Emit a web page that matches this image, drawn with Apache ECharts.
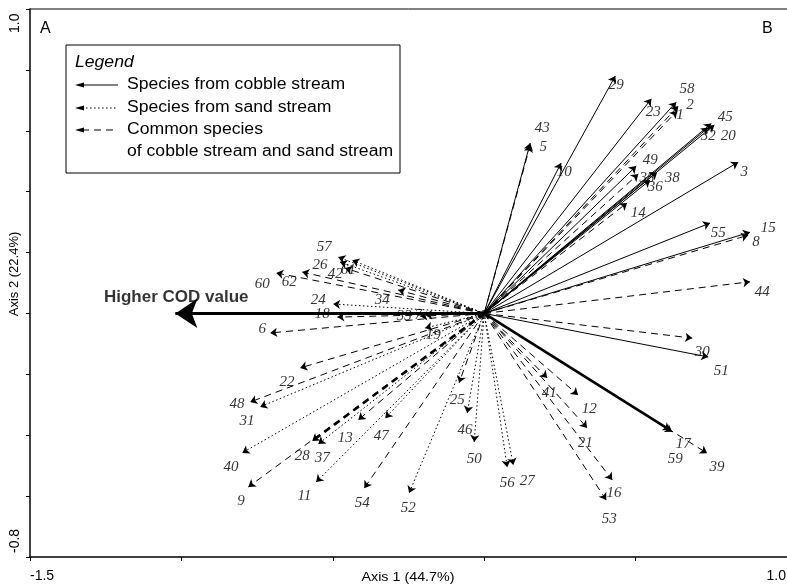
<!DOCTYPE html>
<html>
<head>
<meta charset="utf-8">
<script src="https://cdn.jsdelivr.net/npm/echarts@6/dist/echarts.min.js"></script>
<style>html,body{margin:0;padding:0;background:#fff}#c{width:787px;height:586px}</style>
</head>
<body>
<div id="c"></div>
<script>
// ---- data (biplot scores, axis 1 / axis 2) ----
const species = ['29','23','58','2','1','43','5','10','45','32','20','49','35','36','38','14','3','55','15','8','44','30','51','17','59','39','12','21','41','16','53','56','27','50','46','25','52','54','11','9','40','28','37','13','47','48','31','22','19','6','57','26','61','42','60','62','24','18','34','33','7'];
const axis1 = [0.433,0.552,0.634,0.641,0.637,0.152,0.152,0.254,0.750,0.740,0.760,0.502,0.509,0.548,0.571,0.472,0.839,0.746,0.878,0.872,0.878,0.687,0.740,0.614,0.621,0.736,0.310,0.340,0.208,0.423,0.403,0.076,0.096,-0.033,-0.056,-0.083,-0.248,-0.396,-0.555,-0.779,-0.799,-0.568,-0.548,-0.416,-0.327,-0.773,-0.740,-0.608,-0.195,-0.707,-0.482,-0.476,-0.436,-0.459,-0.687,-0.601,-0.499,-0.485,-0.284,-0.211,-0.195];
const axis2 = [0.780,0.705,0.694,0.681,0.665,0.560,0.553,0.494,0.624,0.610,0.619,0.484,0.458,0.438,0.464,0.363,0.497,0.297,0.267,0.257,0.104,-0.081,-0.143,-0.383,-0.389,-0.459,-0.268,-0.376,-0.212,-0.547,-0.613,-0.505,-0.498,-0.422,-0.327,-0.228,-0.590,-0.574,-0.554,-0.570,-0.458,-0.419,-0.429,-0.350,-0.344,-0.291,-0.307,-0.179,-0.048,-0.064,0.185,0.169,0.175,0.149,0.133,0.136,0.031,-0.012,0.077,-0.009,-0.005];
// c = species from cobble stream, s = species from sand stream, m = common species
const origin = ['c','c','c','m','m','c','m','c','c','c','c','c','m','c','c','m','c','c','c','m','m','m','c','c','m','m','m','m','m','m','m','s','s','s','s','m','s','m','s','m','s','m','s','m','s','m','s','m','s','m','s','s','s','m','m','m','s','m','m','m','m'];
// where each species number is written (axis units)
const labelAxis1 = [0.436,0.558,0.670,0.680,0.647,0.192,0.195,0.264,0.796,0.740,0.806,0.548,0.538,0.565,0.621,0.509,0.859,0.773,0.938,0.898,0.918,0.720,0.783,0.657,0.631,0.769,0.347,0.334,0.215,0.429,0.413,0.076,0.142,-0.033,-0.063,-0.089,-0.251,-0.403,-0.594,-0.803,-0.836,-0.601,-0.535,-0.459,-0.340,-0.816,-0.783,-0.651,-0.168,-0.733,-0.528,-0.542,-0.449,-0.492,-0.733,-0.644,-0.548,-0.535,-0.337,-0.264,-0.218];
const labelAxis2 = [0.751,0.661,0.737,0.684,0.652,0.609,0.547,0.465,0.645,0.581,0.581,0.504,0.445,0.415,0.444,0.331,0.465,0.264,0.281,0.235,0.070,-0.127,-0.189,-0.429,-0.478,-0.505,-0.314,-0.426,-0.261,-0.590,-0.675,-0.557,-0.551,-0.478,-0.383,-0.284,-0.639,-0.623,-0.600,-0.616,-0.504,-0.469,-0.475,-0.409,-0.403,-0.297,-0.353,-0.225,-0.071,-0.051,0.219,0.159,0.143,0.130,0.097,0.103,0.044,-0.002,0.044,-0.009,-0.005];
const codVector = [-1.02, 0];
const codLabel = 'Higher COD value';
const codLabelAt = [-1.017, 0.054];
const xTickLabels = ['-1.5', '1.0'];
const yTickLabels = ['1.0', '-0.8'];
const axisTitles = ['Axis 1 (44.7%)', 'Axis 2 (22.4%)'];
const panelLetters = ['A', 'B'];
const legendTitle = 'Legend';
const legendItems = ['Species from cobble stream', 'Species from sand stream', 'Common species', 'of cobble stream and sand stream'];
const heavy = ['28', '17'];

// ---- build ----
const chart = echarts.init(document.getElementById('c'));
const dashFor = { c: 'solid', s: [1.5, 2.5], m: [7, 5] };
const nameFor = { c: legendItems[0], s: legendItems[1], m: legendItems[2] };
const INK = '#000';

function linesFor(t) {
  const data = [];
  species.forEach((sp, i) => {
    if (origin[i] !== t) return;
    const item = { coords: [[0, 0], [axis1[i], axis2[i]]] };
    if (heavy.includes(sp)) item.lineStyle = { width: 2.6 };
    data.push(item);
  });
  return {
    type: 'lines', name: nameFor[t], coordinateSystem: 'cartesian2d',
    symbol: ['none', 'arrow'], symbolSize: 7, silent: true,
    lineStyle: { color: INK, width: 1, type: dashFor[t], opacity: 1 },
    data, z: 3
  };
}

const labelData = species.map((sp, i) => ({ name: sp, value: [labelAxis1[i], labelAxis2[i]] }));

const F = 'Liberation Sans, Arial, sans-serif';
function txt(x, y, text, font, align, sx) {
  return { type: 'text', x, y, z: 20, scaleX: sx || 1,
           style: { text, font, fill: INK, textAlign: align || 'left', textVerticalAlign: 'middle' } };
}
function legendArrow(y, dash) {
  const st = { stroke: INK, lineWidth: 1 };
  if (dash) st.lineDash = dash;
  return [
    { type: 'line', z: 20, shape: { x1: 82, y1: y, x2: 118, y2: y }, style: st },
    { type: 'polygon', z: 20, shape: { points: [[75, y], [84, y - 2.5], [84, y + 2.5]] }, style: { fill: INK } }
  ];
}

chart.setOption({
  animation: false,
  grid: { left: 30, right: 0, top: 9, bottom: 29 },
  xAxis: {
    type: 'value', min: -1.5, max: 1.0, interval: 0.5,
    axisLine: { show: true, onZero: false, lineStyle: { color: INK, width: 1.5 } },
    axisTick: { show: true, length: 4, lineStyle: { color: INK } },
    axisLabel: { show: false }, splitLine: { show: false }
  },
  yAxis: {
    type: 'value', min: -0.8, max: 1.0, interval: 0.2,
    axisLine: { show: true, onZero: false, lineStyle: { color: INK, width: 1.5 } },
    axisTick: { show: true, length: 4, lineStyle: { color: INK } },
    axisLabel: { show: false }, splitLine: { show: false }
  },
  series: [
    linesFor('c'), linesFor('s'), linesFor('m'),
    {
      type: 'lines', coordinateSystem: 'cartesian2d', silent: true,
      symbol: ['none', 'arrow'], symbolSize: [11, 22],
      lineStyle: { color: INK, width: 3, opacity: 1 },
      data: [{ coords: [[0, 0], codVector] }], z: 4
    },
    {
      type: 'scatter', symbolSize: 0, silent: true, z: 5,
      data: labelData,
      label: { show: true, position: 'inside', formatter: p => p.name, color: INK,
               fontFamily: 'Liberation Serif, Times New Roman, serif', fontStyle: 'italic', fontSize: 15 }
    },
    {
      type: 'scatter', symbolSize: 0, silent: true, z: 5,
      data: [{ name: codLabel, value: codLabelAt }],
      label: { show: true, position: 'inside', formatter: p => p.name, color: INK,
               fontFamily: F, fontWeight: 'bold', fontSize: 17 }
    },
    {
      type: 'scatter', symbolSize: 7, silent: true, z: 6,
      itemStyle: { color: INK }, data: [[0, 0]]
    }
  ],
  graphic: [
    { type: 'line', z: 1, shape: { x1: 30, y1: 9, x2: 787, y2: 9 }, style: { stroke: INK, lineWidth: 1 } },
    txt(30, 576, xTickLabels[0], '14px ' + F),
    txt(786, 576, xTickLabels[1], '14px ' + F, 'right'),
    { type: 'text', x: 8, y: 33, rotation: Math.PI / 2, z: 20, style: { text: yTickLabels[0], font: '14px ' + F, fill: INK, textAlign: 'left', textVerticalAlign: 'top' } },
    { type: 'text', x: 8, y: 553, rotation: Math.PI / 2, z: 20, style: { text: yTickLabels[1], font: '14px ' + F, fill: INK, textAlign: 'left', textVerticalAlign: 'top' } },
    txt(408, 577, axisTitles[0], '13px ' + F, 'center', 1.1),
    { type: 'text', x: 8, y: 274, rotation: Math.PI / 2, z: 20, style: { text: axisTitles[1], font: '13px ' + F, fill: INK, textAlign: 'center', textVerticalAlign: 'top' } },
    txt(40, 29, panelLetters[0], '16px ' + F),
    txt(762, 29, panelLetters[1], '16px ' + F),
    { type: 'rect', z: 15, shape: { x: 66, y: 45, width: 334, height: 128 }, style: { fill: '#fff', stroke: INK, lineWidth: 1 } },
    txt(75, 63, legendTitle, 'italic 16px ' + F, 'left', 1.1),
    ...legendArrow(85, null),
    txt(127, 85, legendItems[0], '16px ' + F, 'left', 1.1),
    ...legendArrow(108, [1.5, 2.5]),
    txt(127, 108, legendItems[1], '16px ' + F, 'left', 1.1),
    ...legendArrow(130, [7, 5]),
    txt(127, 130, legendItems[2], '16px ' + F, 'left', 1.1),
    txt(127, 152, legendItems[3], '16px ' + F, 'left', 1.1)
  ]
});
</script>
</body>
</html>
